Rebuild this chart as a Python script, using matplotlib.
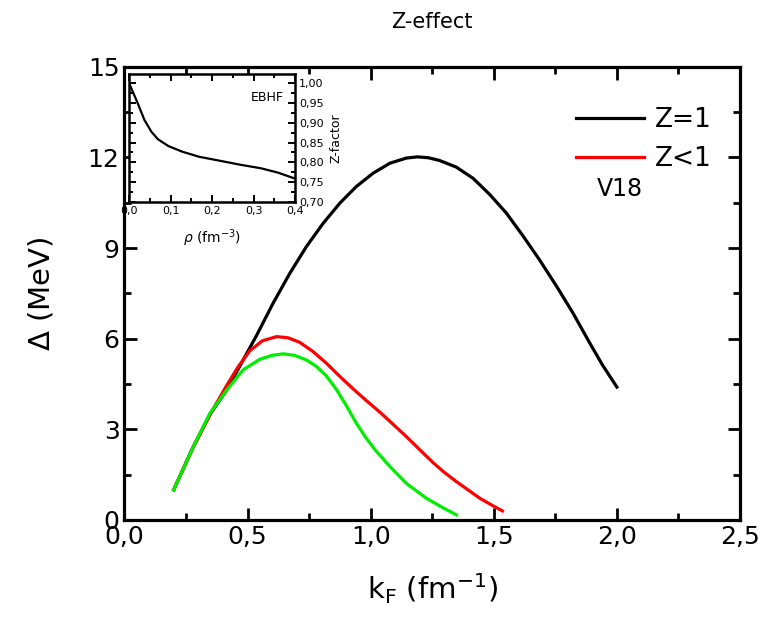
import matplotlib
matplotlib.use("Agg")
import matplotlib.pyplot as plt
from matplotlib.ticker import MultipleLocator, FuncFormatter

# main panel: gap vs Fermi momentum
kf_black = [0.2, 0.28, 0.35, 0.415, 0.469, 0.536, 0.604, 0.672, 0.739, 0.807, 0.875, 0.942,
            1.01, 1.078, 1.145, 1.19, 1.235, 1.28, 1.348, 1.416, 1.483, 1.551, 1.619, 1.686,
            1.754, 1.821, 1.889, 1.94, 2.0]
gap_black = [1.0, 2.43, 3.53, 4.3, 5.1, 6.1, 7.18, 8.17, 9.05, 9.82, 10.49, 11.04,
             11.48, 11.81, 11.98, 12.02, 11.99, 11.9, 11.68, 11.31, 10.78, 10.16, 9.4, 8.61,
             7.75, 6.86, 5.87, 5.15, 4.4]

kf_red = [0.2, 0.28, 0.35, 0.415, 0.46, 0.509, 0.56, 0.618, 0.665, 0.712, 0.765, 0.82,
          0.875, 0.93, 0.98, 1.04, 1.1, 1.145, 1.2, 1.253, 1.3, 1.348, 1.4, 1.443, 1.49, 1.535]
gap_red = [1.0, 2.43, 3.53, 4.45, 5.05, 5.6, 5.93, 6.07, 6.03, 5.88, 5.58, 5.19,
           4.75, 4.33, 3.97, 3.55, 3.1, 2.76, 2.32, 1.9, 1.57, 1.27, 0.97, 0.72, 0.5, 0.3]

kf_green = [0.2, 0.28, 0.347, 0.415, 0.482, 0.55, 0.6, 0.645, 0.69, 0.739, 0.78, 0.82,
            0.86, 0.9, 0.942, 0.98, 1.02, 1.078, 1.145, 1.226, 1.29, 1.348]
gap_green = [1.0, 2.43, 3.53, 4.3, 4.97, 5.32, 5.45, 5.5, 5.45, 5.3, 5.08, 4.77,
             4.33, 3.8, 3.2, 2.73, 2.3, 1.77, 1.21, 0.72, 0.42, 0.17]

# inset: Z-factor vs density
rho = [0.0, 0.021, 0.037, 0.054, 0.07, 0.095, 0.128, 0.169, 0.219, 0.268, 0.318, 0.359, 0.4]
zfac = [1.0, 0.949, 0.907, 0.877, 0.858, 0.841, 0.827, 0.814, 0.804, 0.794, 0.785, 0.774, 0.759]


def comma(fmt):
    return FuncFormatter(lambda v, p: (fmt % v).replace(".", ","))


fig = plt.figure(figsize=(7.75, 6.19), dpi=100)
ax = fig.add_axes([0.1606, 0.160, 0.7942, 0.732])

ax.plot(kf_black, gap_black, color="black", lw=2.3, label="Z=1")
ax.plot(kf_red, gap_red, color="#ff0000", lw=2.3, label="Z<1")
ax.plot(kf_green, gap_green, color="#00ee00", lw=2.3)

ax.set_xlim(0, 2.5)
ax.set_ylim(0, 15)
ax.xaxis.set_major_locator(MultipleLocator(0.5))
ax.xaxis.set_minor_locator(MultipleLocator(0.25))
ax.yaxis.set_major_locator(MultipleLocator(3))
ax.yaxis.set_minor_locator(MultipleLocator(1.5))
ax.xaxis.set_major_formatter(comma("%.1f"))
ax.tick_params(which="both", direction="in", top=True, right=True, width=2, labelsize=18)
ax.tick_params(which="major", length=9)
ax.tick_params(which="minor", length=5)
for s in ax.spines.values():
    s.set_linewidth(2.3)

ax.set_xlabel(r"k$_\mathregular{F}$ (fm$^\mathregular{-1}$)", fontsize=21, labelpad=16)
ax.set_ylabel(r"$\Delta$ (MeV)", fontsize=21, labelpad=23)
ax.set_title("Z-effect", fontsize=15, pad=28)

ax.legend(loc="upper left", bbox_to_anchor=(0.716, 0.935), frameon=False, fontsize=19,
          handlelength=2.6, handletextpad=0.4, labelspacing=0.5, borderaxespad=0)
ax.text(0.767, 0.73, "V18", transform=ax.transAxes, fontsize=17, ha="left", va="center")

# inset
ins = fig.add_axes([0.1665, 0.6737, 0.2142, 0.2068])
ins.plot(rho, zfac, color="black", lw=1.6)
ins.set_xlim(0, 0.4)
ins.set_ylim(0.70, 1.023)
ins.xaxis.set_major_locator(MultipleLocator(0.1))
ins.xaxis.set_minor_locator(MultipleLocator(0.05))
ins.yaxis.set_major_locator(MultipleLocator(0.05))
ins.yaxis.set_minor_locator(MultipleLocator(0.025))
ins.xaxis.set_major_formatter(comma("%.1f"))
ins.yaxis.set_major_formatter(comma("%.2f"))
ins.yaxis.tick_right()
ins.yaxis.set_label_position("right")
ins.tick_params(which="both", direction="in", top=True, left=True, right=True,
                labelleft=False, labelright=True, width=1.4, labelsize=8, pad=3)
ins.tick_params(which="major", length=5)
ins.tick_params(which="minor", length=3)
for s in ins.spines.values():
    s.set_linewidth(1.8)
ins.set_xlabel(r"$\rho$ (fm$^\mathregular{-3}$)", fontsize=10, labelpad=8)
ins.set_ylabel("Z-factor", fontsize=9, labelpad=4)
ins.text(0.93, 0.82, "EBHF", transform=ins.transAxes, fontsize=9, ha="right", va="center")

fig.savefig("out.png", dpi=100)
